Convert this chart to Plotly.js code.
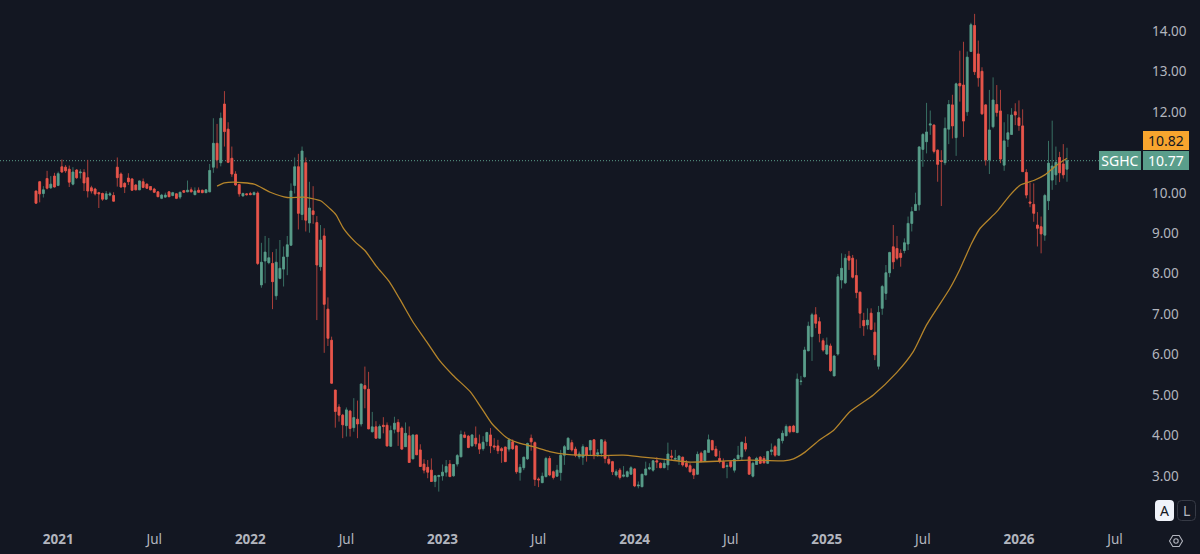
<!DOCTYPE html>
<html><head><meta charset="utf-8">
<script src="https://cdn.plot.ly/plotly-3.0.1.min.js"></script>
<style>html,body{margin:0;padding:0;background:#131722;overflow:hidden}#c{width:1200px;height:554px}</style>
</head><body><div id="c"></div>
<script>
const symbol = "SGHC";
const lastPrice = 10.77;
const extPrice = 10.82;
const tickIdx = [6,32,58,84,110,136,162,188,214,240,266,292];
const tickText = ["<b>2021</b>","Jul","<b>2022</b>","Jul","<b>2023</b>","Jul","<b>2024</b>","Jul","<b>2025</b>","Jul","<b>2026</b>","Jul"];
const priceTicks = [3,4,5,6,7,8,9,10,12,13,14];
const open = [10.02,10.25,9.96,10.33,10.10,10.39,10.16,10.62,10.61,10.56,
10.19,10.54,10.47,10.48,10.35,10.10,10.07,9.98,9.96,9.82,
9.92,9.91,10.61,10.44,10.21,10.34,10.32,10.17,10.05,10.25,
10.19,10.13,10.07,10.00,9.84,9.87,10.00,9.91,9.95,9.87,
10.03,10.00,10.05,9.93,10.04,10.04,9.98,10.00,10.61,11.20,
10.72,12.17,11.55,10.83,10.44,10.18,9.90,9.95,9.96,9.93,
9.97,7.70,8.29,8.25,8.23,7.43,7.86,8.09,8.40,8.68,
10.16,10.62,9.44,10.72,9.23,9.53,9.24,8.15,8.91,7.10,
6.33,5.10,4.68,4.48,4.22,4.58,4.17,4.38,4.26,5.21,
5.12,4.07,4.19,3.91,4.23,4.23,3.71,4.13,4.30,4.16,
3.70,3.97,3.40,3.99,3.62,3.27,3.19,3.12,2.84,2.96,
2.98,3.07,3.27,2.98,3.27,3.45,3.99,3.96,3.72,3.91,
3.77,3.65,3.83,3.99,3.72,3.72,3.65,3.69,3.64,3.82,
3.72,3.06,3.18,3.40,3.91,3.80,2.90,2.81,2.96,3.41,
3.08,2.97,3.06,3.49,3.63,3.80,3.64,3.45,3.44,3.68,
3.62,3.87,3.51,3.54,3.82,3.39,3.33,3.00,3.12,2.97,
2.96,3.02,3.15,2.73,2.71,3.00,3.15,3.12,3.35,3.29,
3.18,3.25,3.47,3.39,3.37,3.44,3.29,3.23,3.14,3.02,
3.54,3.35,3.56,3.85,3.64,3.41,3.33,3.21,3.33,3.12,
3.40,3.45,3.78,3.44,2.97,3.26,3.44,3.41,3.29,3.58,
3.70,3.49,3.85,3.97,4.20,4.21,4.05,5.31,5.43,6.07,
6.42,6.96,6.79,6.32,5.99,6.19,5.45,5.99,7.82,7.75,
8.41,8.36,7.93,7.52,6.82,6.71,7.00,6.53,5.69,7.12,
7.49,8.00,8.64,8.60,8.48,8.55,8.71,9.22,9.54,9.68,
11.05,11.24,11.65,11.65,11.03,10.77,10.72,11.55,12.15,11.34,
12.68,12.64,11.98,13.47,14.11,13.41,12.98,12.15,10.79,11.61,
12.16,12.00,10.66,11.30,11.42,11.98,11.83,11.63,10.48,9.75,
9.69,9.18,9.14,8.93,9.78,10.29,10.42,10.85,10.69,10.56];
const high = [10.03,10.27,10.14,10.52,10.39,10.47,10.50,10.80,10.66,10.65,
10.61,10.56,10.56,10.56,10.79,10.15,10.10,10.00,9.98,10.02,
10.00,9.99,10.85,10.48,10.24,10.46,10.33,10.19,10.28,10.33,
10.21,10.14,10.10,10.02,9.95,9.98,10.02,10.00,9.97,10.00,
10.04,10.28,10.11,10.11,10.11,10.05,10.07,10.69,11.82,11.68,
11.96,12.49,11.72,11.12,10.51,10.19,9.98,9.97,10.00,10.01,
10.01,8.74,8.91,8.86,8.51,8.59,8.81,8.65,8.91,10.21,
10.85,10.94,11.12,10.85,10.25,10.14,9.40,9.18,9.10,7.39,
6.42,5.10,4.75,4.51,4.67,4.61,4.90,4.84,5.25,5.68,
5.55,4.56,4.33,4.25,4.43,4.30,4.22,4.44,4.38,4.20,
4.30,4.20,4.00,4.00,3.76,3.39,3.37,3.41,3.00,3.00,
3.26,3.37,3.37,3.27,3.52,4.10,4.07,3.99,4.01,4.20,
4.00,3.96,4.07,4.16,3.91,3.87,3.69,3.70,3.91,3.88,
3.74,3.27,3.45,3.80,4.00,3.83,2.94,3.06,3.45,3.47,
3.11,3.25,3.62,3.74,3.93,3.87,3.70,3.58,3.76,3.70,
3.87,3.87,3.64,3.88,3.88,3.47,3.35,3.14,3.17,3.22,
3.11,3.22,3.17,2.84,3.02,3.33,3.29,3.37,3.44,3.31,
3.37,3.80,3.62,3.62,3.49,3.45,3.37,3.29,3.17,3.58,
3.58,3.62,4.00,3.87,3.72,3.60,3.41,3.29,3.33,3.41,
3.72,3.82,3.95,3.47,3.33,3.45,3.47,3.47,3.60,3.78,
3.74,3.91,4.10,4.25,4.22,4.24,5.51,5.45,6.17,6.79,
7.01,7.15,6.90,6.38,6.40,6.25,5.97,7.97,8.48,8.46,
8.54,8.44,8.33,7.53,7.01,7.12,7.12,6.77,7.18,7.70,
8.19,8.52,9.18,8.91,8.58,8.85,9.39,9.63,9.98,11.13,
11.45,12.20,12.01,11.67,11.05,11.03,11.84,12.27,12.40,12.70,
13.49,13.71,13.47,14.18,14.40,13.74,13.08,12.17,12.52,12.83,
12.64,12.52,11.72,11.92,12.07,12.19,12.26,12.04,10.56,10.23,
10.21,9.50,9.39,9.95,11.26,11.76,11.12,10.99,11.18,11.09];
const low = [9.70,9.74,9.86,10.06,10.07,10.11,10.14,10.47,10.47,10.12,
10.16,10.32,10.33,10.02,9.86,9.96,9.91,9.60,9.78,9.80,
9.89,9.76,10.13,10.10,9.97,10.17,10.03,10.04,10.05,10.09,
10.07,10.04,9.97,9.87,9.82,9.85,9.87,9.89,9.82,9.82,
9.97,10.00,9.99,9.92,9.98,9.97,9.97,10.00,10.47,10.58,
10.63,11.12,10.71,10.37,10.15,9.88,9.88,9.91,9.92,9.92,
8.19,7.63,7.74,8.21,7.10,7.33,7.84,7.66,7.94,8.66,
9.96,9.07,9.30,9.02,8.99,9.21,6.83,8.05,6.02,6.19,
5.25,4.17,4.32,3.91,3.95,3.95,4.07,3.91,4.20,4.65,
4.14,4.05,3.91,3.91,4.03,3.70,3.70,4.03,3.72,3.62,
3.70,3.30,3.39,3.50,3.21,3.04,2.92,2.84,2.70,2.59,
2.86,2.96,2.96,2.96,3.21,3.44,3.91,3.66,3.70,3.70,
3.52,3.60,3.72,3.54,3.62,3.52,3.30,3.33,3.58,3.62,
3.03,2.86,3.12,3.37,3.60,2.73,2.70,2.81,2.94,2.97,
2.89,2.96,2.86,3.25,3.62,3.58,3.44,3.39,3.25,3.33,
3.49,3.39,3.45,3.45,3.29,3.25,3.00,2.96,2.89,2.94,
2.94,3.00,2.70,2.67,2.70,3.00,3.12,3.08,3.17,3.17,
3.17,3.12,3.37,3.37,3.25,3.21,3.17,3.06,2.90,3.00,
3.33,3.33,3.55,3.62,3.45,3.29,3.17,2.92,3.17,3.06,
3.39,3.37,3.58,3.02,2.94,3.25,3.27,3.29,3.27,3.49,
3.45,3.47,3.78,3.96,4.03,4.07,4.03,5.22,5.41,6.07,
5.82,6.63,6.28,6.05,5.97,5.55,5.45,5.95,7.61,7.72,
8.07,7.86,7.37,6.63,6.44,6.60,6.58,5.84,5.61,6.96,
7.33,7.89,8.09,8.31,8.15,8.48,8.56,9.02,9.54,9.54,
10.62,10.95,11.41,10.95,10.25,9.65,10.66,11.18,11.32,10.89,
12.23,11.36,11.88,13.47,12.89,12.60,11.90,10.65,10.44,11.57,
11.86,10.71,10.52,11.11,11.41,11.65,11.51,10.50,9.84,9.62,
9.26,8.65,8.48,8.79,9.55,10.05,10.17,10.24,10.33,10.25];
const close = [9.72,9.95,10.05,10.09,10.19,10.12,10.45,10.49,10.52,10.24,
10.49,10.35,10.49,10.22,10.02,10.02,9.95,9.95,9.82,9.95,
9.95,9.77,10.35,10.12,10.12,10.25,10.04,10.05,10.27,10.11,
10.09,10.05,9.99,9.88,9.92,9.92,9.88,9.98,9.84,9.99,
9.99,10.04,10.00,10.02,9.99,9.98,10.05,10.53,11.20,10.79,
11.82,11.49,10.73,10.44,10.17,9.95,9.96,9.93,9.93,9.98,
8.23,8.26,8.51,8.37,7.78,8.26,8.11,8.39,8.69,10.02,
10.62,9.47,11.01,9.30,9.60,9.44,8.19,8.81,7.22,6.38,
5.27,4.57,4.48,4.24,4.61,4.15,4.42,4.26,5.25,5.13,
4.14,4.19,3.91,4.20,4.20,3.72,4.10,4.28,4.07,3.64,
4.03,3.31,3.99,3.50,3.21,3.12,3.07,2.84,2.98,2.99,
3.07,3.21,2.96,3.26,3.48,4.00,3.93,3.68,3.99,3.77,
3.64,3.81,4.05,3.72,3.69,3.60,3.60,3.33,3.87,3.65,
3.08,3.19,3.44,3.78,3.82,2.89,2.88,2.97,3.41,3.00,
2.94,3.12,3.49,3.70,3.91,3.62,3.49,3.52,3.70,3.49,
3.85,3.49,3.55,3.87,3.41,3.29,3.08,3.08,2.94,3.00,
3.08,3.18,2.73,2.75,3.02,3.15,3.18,3.35,3.32,3.18,
3.29,3.52,3.44,3.41,3.47,3.25,3.21,3.08,3.00,3.51,
3.33,3.60,3.87,3.62,3.47,3.33,3.18,3.23,3.21,3.39,
3.49,3.81,3.64,3.02,3.29,3.41,3.29,3.30,3.58,3.62,
3.49,3.89,4.03,4.20,4.07,4.07,5.37,5.32,6.09,6.68,
6.96,6.75,6.50,6.09,6.21,5.58,5.94,7.90,8.11,8.36,
8.31,7.89,7.51,7.00,6.69,6.83,6.60,5.97,7.02,7.66,
8.00,8.50,8.27,8.36,8.38,8.74,9.22,9.51,9.69,11.11,
11.42,11.48,11.68,11.00,10.68,10.75,11.57,12.16,11.63,12.67,
12.62,11.75,13.33,14.13,12.97,12.82,11.93,10.79,11.53,12.27,
11.96,10.81,11.26,11.46,11.90,11.90,11.64,10.50,9.92,9.72,
9.47,9.10,8.96,9.91,10.71,10.64,10.73,10.47,10.42,10.77];
const maIdx = [49,51,53.5,59,63.4,68,72.4,77,79.6,81.2,83.2,86.3,89,92.2,95.6,98.5,102.1,105.7,109.3,112.9,117.5,120.6,123.3,127.4,131,134.6,139,143.6,152.6,158.9,163.5,170.7,177,184.2,193.2,202.3,205,207.7,212.2,215.8,220.3,226.6,232.9,237.4,241,247.3,250,253.2,255.5,260,263.6,266.4,270,273,276.2,279];
const maVal = [10.14,10.22,10.24,10.19,9.99,9.86,9.87,9.78,9.58,9.43,9.10,8.77,8.55,8.15,7.78,7.34,6.77,6.30,5.82,5.46,5.06,4.65,4.28,3.92,3.78,3.70,3.58,3.51,3.48,3.49,3.45,3.38,3.32,3.34,3.37,3.35,3.40,3.54,3.88,4.10,4.57,4.98,5.53,6.05,6.71,7.61,8.08,8.73,9.10,9.51,9.92,10.17,10.28,10.42,10.66,10.83];

const bars = close.map((_, i) => i);
const bodyTop = open.map((o, i) => Math.max(o, close[i]));
const bodyBottom = open.map((o, i) => Math.min(o, close[i]));
const W = 1200, H = 554, R = 58, B = 28;
const pw = W - R, ph = H - B;
const px = x => x / pw, py = y => 1 - y / ph;
const muted = "#b2b5be";
const upColor = "#5a9e8b", downColor = "#e8564c";
const FONT = '"Noto Sans", sans-serif';

function roundRect(x0, y0, x1, y1, r) {
  const P = (x, y) => px(x) + "," + py(y);
  return "M" + P(x0 + r, y0) + " L" + P(x1 - r, y0) + " Q" + P(x1, y0) + " " + P(x1, y0 + r) +
    " L" + P(x1, y1 - r) + " Q" + P(x1, y1) + " " + P(x1 - r, y1) + " L" + P(x0 + r, y1) +
    " Q" + P(x0, y1) + " " + P(x0, y1 - r) + " L" + P(x0, y0 + r) + " Q" + P(x0, y0) + " " + P(x0 + r, y0) + " Z";
}
function poly(points) {
  return "M" + points.map(p => px(p[0]) + "," + py(p[1])).join(" L") + " Z";
}
const traces = [
  { type: "candlestick", x: bars, open, high, low, close, hoverinfo: "skip", showlegend: false,
    increasing: { line: { color: "#386f63", width: 1 }, fillcolor: "#386f63" },
    decreasing: { line: { color: "#a93f3a", width: 1 }, fillcolor: "#a93f3a" } },
  { type: "candlestick", x: bars, open, close, high: bodyTop, low: bodyBottom, hoverinfo: "skip", showlegend: false,
    increasing: { line: { color: upColor, width: 0.6 }, fillcolor: upColor },
    decreasing: { line: { color: downColor, width: 0.6 }, fillcolor: downColor } },
  { type: "scatter", mode: "lines", x: maIdx, y: maVal, hoverinfo: "skip", showlegend: false,
    line: { color: "#b5852b", width: 1.3, shape: "spline", smoothing: 0.6 } }
];
const shapes = [
  { type: "line", xref: "paper", yref: "y", x0: 0, x1: px(1100), y0: lastPrice, y1: lastPrice, layer: "below",
    line: { color: upColor, width: 1, dash: "1px,2px" } },
  { type: "path", xref: "paper", yref: "paper", path: roundRect(1155, 500, 1174, 521, 4), fillcolor: "#f0f3fa", line: { width: 0 } },
  { type: "path", xref: "paper", yref: "paper", path: roundRect(1177.5, 500.5, 1195.5, 520.5, 4), fillcolor: "#131722", line: { color: "#363a45", width: 1 } },
  { type: "path", xref: "paper", yref: "paper", path: poly([[1169.5,541],[1172.8,535.5],[1179.2,535.5],[1182.5,541],[1179.2,546.5],[1172.8,546.5]]), fillcolor: "rgba(0,0,0,0)", line: { color: muted, width: 1.1 } },
  { type: "circle", xref: "paper", yref: "paper", x0: px(1173.8), x1: px(1178.2), y0: py(543.2), y1: py(538.8), fillcolor: "rgba(0,0,0,0)", line: { color: muted, width: 1.1 } }
];
const tag = (text, cx, w, bg, color, y, shift) => ({
  xref: "paper", yref: "y", x: px(cx), y, xanchor: "center", yanchor: "middle", yshift: shift,
  text, showarrow: false, width: w, height: 19, bgcolor: bg, borderpad: 0, borderwidth: 0,
  font: { family: FONT, size: 14, color }
});
const label = (text, cx, cy, color) => ({
  xref: "paper", yref: "paper", x: px(cx), y: py(cy), xanchor: "center", yanchor: "middle",
  text, showarrow: false, font: { family: FONT, size: 14, color }
});
const annotations = [
  tag(symbol, 1120, 42, upColor, "#ffffff", lastPrice, 0),
  tag(lastPrice.toFixed(2), 1166, 46, upColor, "#ffffff", lastPrice, 0),
  tag(extPrice.toFixed(2), 1166, 46, "#f7a52e", "#131722", lastPrice, 20),
  label("A", 1164.5, 510.5, "#131722"),
  label("L", 1186.5, 510.5, muted)
];
const layout = {
  width: W, height: H,
  margin: { l: 0, r: R, t: 0, b: B, pad: 0 },
  paper_bgcolor: "#131722", plot_bgcolor: "#131722",
  font: { family: FONT, size: 13, color: muted },
  showlegend: false, dragmode: false,
  xaxis: { type: "linear", range: [-9.74, 299.3], showgrid: false, zeroline: false, showline: false,
    rangeslider: { visible: false }, tickmode: "array", tickvals: tickIdx, ticktext: tickText,
    ticks: "", ticklabelstandoff: 3, tickfont: { family: FONT, size: 13.5, color: muted } },
  yaxis: { type: "linear", side: "right", range: [3 - 51 / 40.45, 3 + 475 / 40.45], showgrid: false, zeroline: false, showline: false,
    tickmode: "array", tickvals: priceTicks, ticktext: priceTicks.map(v => v.toFixed(2)),
    ticks: "", ticklabelstandoff: 9, ticklabelshift: 1, tickfont: { family: FONT, size: 13.5, color: muted } },
  shapes, annotations
};
Plotly.newPlot("c", traces, layout, { displayModeBar: false, staticPlot: true });
</script>
</body></html>
